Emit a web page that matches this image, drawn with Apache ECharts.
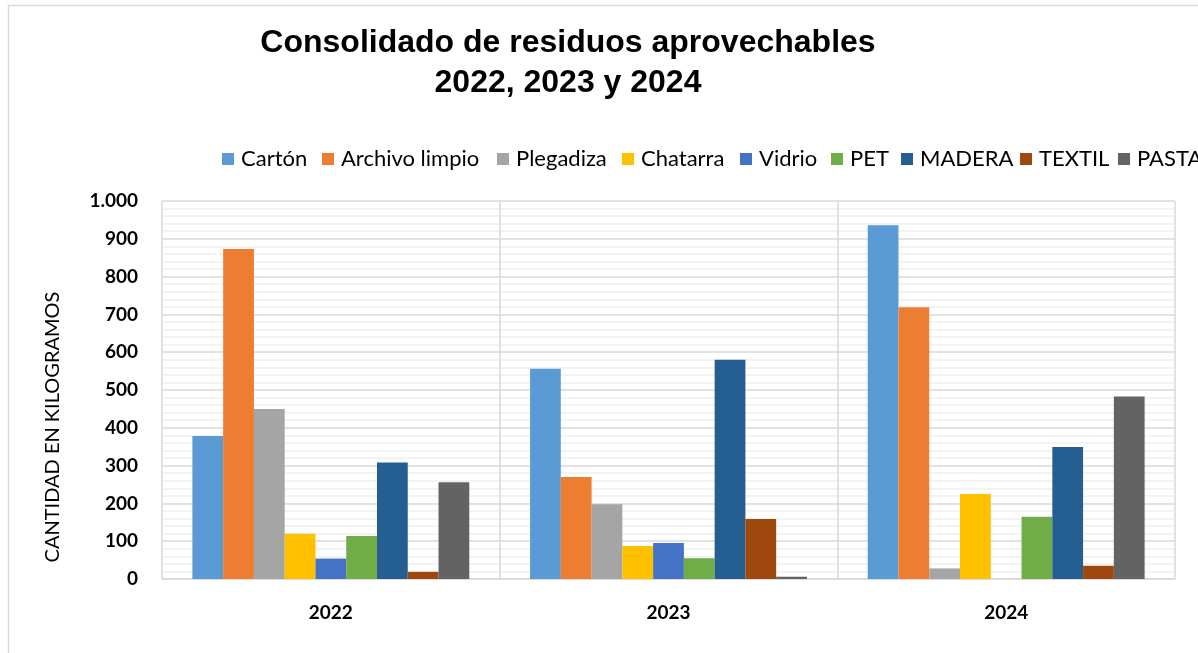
<!DOCTYPE html>
<html>
<head>
<meta charset="utf-8">
<script src="https://cdn.jsdelivr.net/npm/echarts@6/dist/echarts.min.js"></script>
<style>
  html, body { margin: 0; padding: 0; background: #fff; }
  #chart { width: 1198px; height: 653px; }
</style>
</head>
<body>
<div id="chart"></div>
<script>
// Años (categorías del eje X)
const years = ['2022', '2023', '2024'];

// Kilogramos por material y año
const carton     = [378, 556, 936];
const archivo    = [873, 270, 719];
const plegadiza  = [450, 198, 28];
const chatarra   = [120, 87, 225];
const vidrio     = [54, 95, 0];
const pet        = [114, 55, 165];
const madera     = [308, 580, 349];
const textil     = [19, 159, 35];
const pasta      = [256, 6, 483];

const materials = ['Cartón', 'Archivo limpio', 'Plegadiza', 'Chatarra', 'Vidrio', 'PET', 'MADERA', 'TEXTIL', 'PASTA'];
const seriesValues = [carton, archivo, plegadiza, chatarra, vidrio, pet, madera, textil, pasta];

const yTicks = [0, 100, 200, 300, 400, 500, 600, 700, 800, 900, 1000];

// Estilo
const colors = ['#5B9BD5', '#ED7D31', '#A5A5A5', '#FFC000', '#4472C4', '#70AD47', '#255E91', '#9E480E', '#636363'];
const legendLeft = [222, 322, 497, 622, 740, 831, 901, 1020, 1118];

const chart = echarts.init(document.getElementById('chart'), null, { renderer: 'canvas' });

const legends = materials.map((name, i) => ({
  data: [name],
  left: legendLeft[i],
  top: 148,
  padding: 0,
  icon: 'rect',
  itemWidth: 12,
  itemHeight: 12,
  itemGap: 0,
  selectedMode: false,
  textStyle: { fontFamily: 'Lato', fontSize: 22, color: '#000', padding: [0, 0, 0, 2] }
}));

const fmt = v => v >= 1000 ? String(v).replace(/\B(?=(\d{3})+(?!\d))/g, '.') : String(v);

chart.setOption({
  animation: false,
  backgroundColor: '#fff',
  color: colors,
  graphic: [
    {
      type: 'rect',
      shape: { x: 8.5, y: 5.5, width: 1220, height: 680 },
      style: { fill: 'none', stroke: '#d9d9d9', lineWidth: 1.5 },
      silent: true, z: -10
    },
    {
      type: 'text',
      x: 568, y: 23,
      style: {
        text: 'Consolidado de residuos aprovechables\n2022, 2023 y 2024',
        fontFamily: 'Liberation Sans, Arial, sans-serif',
        fontWeight: 'bold',
        fontSize: 32,
        lineHeight: 40,
        align: 'center',
        verticalAlign: 'top',
        fill: '#000'
      }
    },
    {
      type: 'text',
      x: 53, y: 427,
      rotation: Math.PI / 2,
      style: {
        text: 'CANTIDAD EN KILOGRAMOS',
        fontFamily: 'Lato',
        fontSize: 20,
        align: 'center',
        verticalAlign: 'middle',
        fill: '#000'
      }
    }
  ],
  legend: legends,
  grid: { left: 162, right: 23, top: 201, bottom: 74, containLabel: false },
  xAxis: {
    type: 'category',
    data: years,
    axisLine: { show: true, lineStyle: { color: '#d9d9d9', width: 1.5 } },
    axisTick: { show: false },
    splitLine: { show: true, lineStyle: { color: '#d9d9d9', width: 1.5 } },
    axisLabel: { fontFamily: 'Lato', fontWeight: 'bold', fontSize: 19, color: '#000', margin: 24 }
  },
  yAxis: {
    type: 'value',
    min: yTicks[0],
    max: yTicks[yTicks.length - 1],
    interval: 100,
    axisLine: { show: false },
    axisTick: { show: false },
    axisLabel: { fontFamily: 'Lato', fontWeight: 'bold', fontSize: 19, color: '#000', margin: 24, formatter: fmt },
    splitLine: { show: true, lineStyle: { color: '#d9d9d9', width: 1.5 } },
    minorTick: { show: false, splitNumber: 5 },
    minorSplitLine: { show: true, lineStyle: { color: '#efefef', width: 1.5 } }
  },
  series: materials.map((name, i) => ({
    name: name,
    type: 'bar',
    data: seriesValues[i],
    barGap: '0%',
    barCategoryGap: '18%',
    itemStyle: { color: colors[i] }
  }))
});
</script>
</body>
</html>
